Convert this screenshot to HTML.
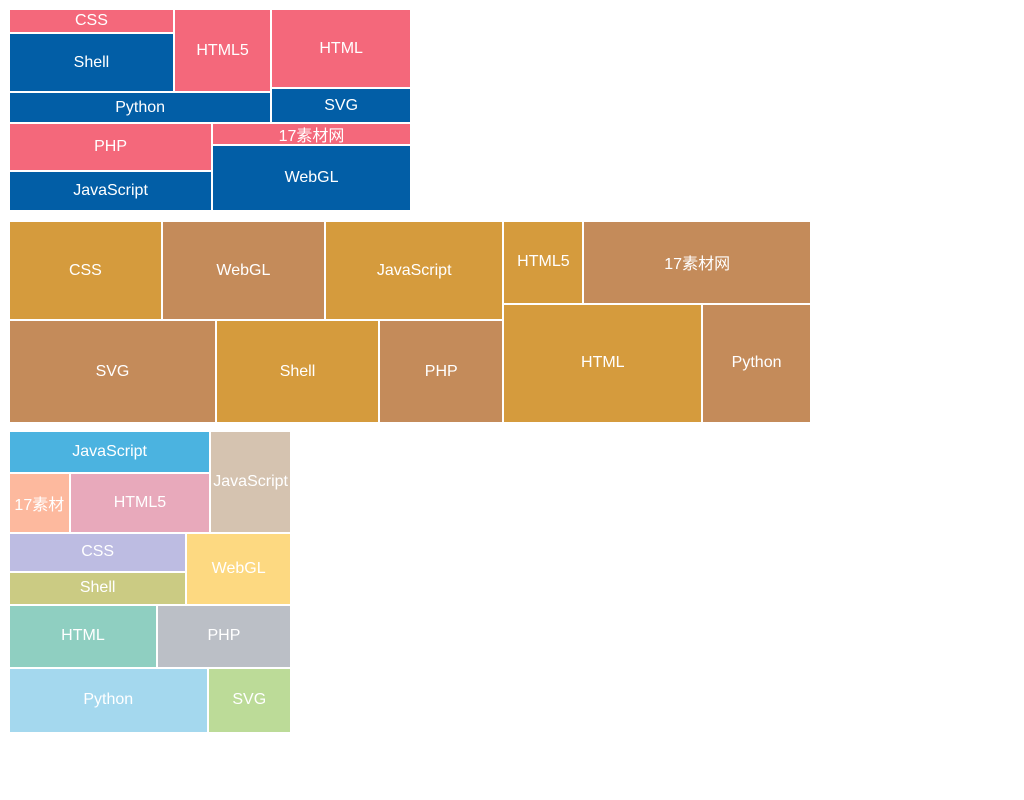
<!DOCTYPE html>
<html><head><meta charset="utf-8"><style>
html,body{margin:0;padding:0;background:#fff;width:1024px;height:800px;overflow:hidden}
#root{position:relative;width:1024px;height:800px}
.leaf{position:absolute;box-sizing:border-box;color:#fff;font:16px "Liberation Sans","Noto Sans CJK SC",sans-serif;display:flex;align-items:center;justify-content:center;overflow:hidden;white-space:nowrap}
</style></head><body>
<div id="root"></div>
<script>
// Chart 1 leaf values
const c1Names = ["CSS","Shell","HTML5","Python","HTML","SVG","PHP","JavaScript","17素材网","WebGL"];
const c1Values = [3750,9290,7700,7800,10500,4700,9250,7640,4140,12400];
const c1Colors = ["#f4687b","#025ea6","#f4687b","#025ea6","#f4687b","#025ea6","#f4687b","#025ea6","#f4687b","#025ea6"];
// Chart 2 leaf values
const c2Names = ["CSS","WebGL","JavaScript","SVG","Shell","PHP","HTML5","17素材网","HTML","Python"];
const c2Values = [14900,15900,17400,20800,16400,12500,6500,18500,23200,12700];
const c2Colors = ["#d59b3d","#c48b5a","#d59b3d","#c48b5a","#d59b3d","#c48b5a","#d59b3d","#c48b5a","#d59b3d","#c48b5a"];
// Chart 3 leaf values
const c3Names = ["JavaScript","17素材","HTML5","JavaScript","CSS","Shell","WebGL","HTML","PHP","Python","SVG"];
const c3Values = [8200,3540,8200,8000,6700,5660,7300,9100,8250,12600,5300];
const c3Colors = ["#4bb3e0","#fdb99e","#e8a9bb","#d5c3b0","#bdbce2","#cbcb83","#fdd981","#8fcfc1","#bbbfc6","#a4d8ee","#bcdb98"];

// layout structure (split directions, leaf indices)
const tree1 = {d:"v",c:[{d:"h",c:[{d:"v",c:[{d:"h",c:[{d:"v",c:[0,1]},2]},3]},{d:"v",c:[4,5]}]},{d:"h",c:[{d:"v",c:[6,7]},{d:"v",c:[8,9]}]}]};
const tree2 = {d:"h",c:[{d:"v",c:[{d:"h",c:[0,1,2]},{d:"h",c:[3,4,5]}]},{d:"v",c:[{d:"h",c:[6,7]},{d:"h",c:[8,9]}]}]};
const tree3 = {d:"v",c:[{d:"h",c:[{d:"v",c:[0,{d:"h",c:[1,2]}]},3]},{d:"h",c:[{d:"v",c:[4,5]},6]},{d:"h",c:[7,8]},{d:"h",c:[9,10]}]};

const root = document.getElementById('root');
function sum(n, vals){ return typeof n === "number" ? vals[n] : n.c.reduce((a,k)=>a+sum(k,vals),0); }
function layout(n, x, y, w, h, vals, names, colors, chart){
  if (typeof n === "number"){
    const el = document.createElement('div');
    el.className = 'leaf';
    
    
    el.style.left = (x+1)+'px'; el.style.top = (y+1)+'px';
    el.style.width = Math.max(0,w-2)+'px'; el.style.height = Math.max(0,h-2)+'px';
    el.style.background = colors[n];
    el.textContent = names[n];
    root.appendChild(el);
    return;
  }
  const total = sum(n, vals);
  let off = 0;
  n.c.forEach(k=>{
    const f = sum(k, vals)/total;
    if (n.d === "h"){ layout(k, x+off, y, w*f, h, vals, names, colors, chart); off += w*f; }
    else { layout(k, x, y+off, w, h*f, vals, names, colors, chart); off += h*f; }
  });
}
layout(tree1, 9, 9, 402, 202, c1Values, c1Names, c1Colors, 'chart1');
layout(tree2, 9, 221, 802, 202, c2Values, c2Names, c2Colors, 'chart2');
layout(tree3, 9, 431, 282, 302, c3Values, c3Names, c3Colors, 'chart3');
</script>
</body></html>
